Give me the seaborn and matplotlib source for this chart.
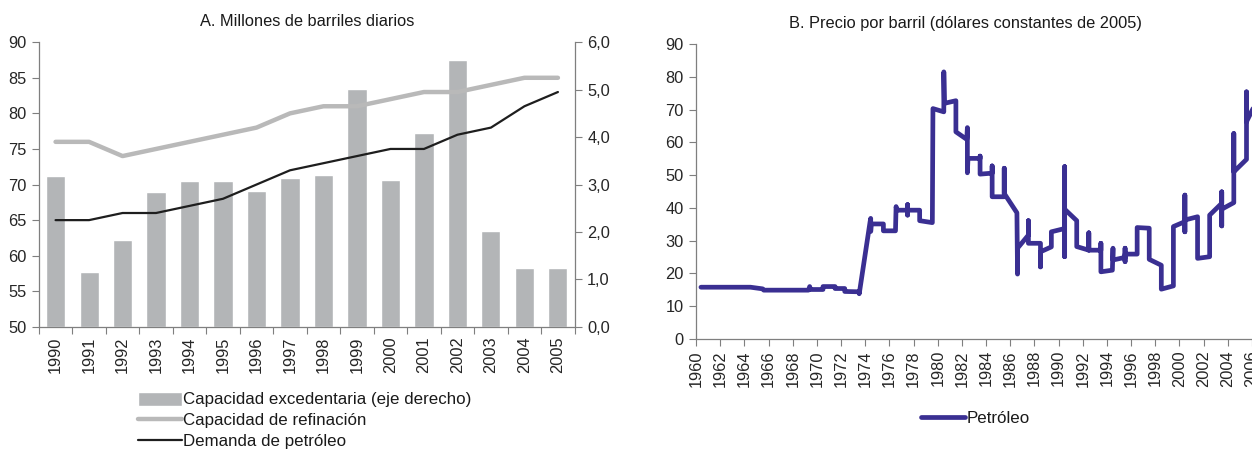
import matplotlib
matplotlib.use("Agg")
import matplotlib.pyplot as plt
import matplotlib.ticker as mticker
import numpy as np
import pandas as pd
import seaborn as sns

### Data - panel A (millones de barriles diarios)
years_a = [str(y) for y in range(1990, 2006)]
spare_capacity = [3.19, 1.16, 1.83, 2.85, 3.07, 3.08, 2.86, 3.13, 3.20, 5.01,
                  3.10, 4.09, 5.63, 2.02, 1.25, 1.25]
refining_capacity = [76, 76, 74, 75, 76, 77, 78, 80, 81, 81, 82, 83, 83, 84, 85, 85]
oil_demand = [65, 65, 66, 66, 67, 68, 70, 72, 73, 74, 75, 75, 77, 78, 81, 83]

### Data - panel B (precio por barril, dolares de 2005)
price_year = [1960.4, 1964.5, 1965.5, 1965.6, 1969.3, 1969.4, 1969.45, 1970.5, 1970.5,
              1971.5, 1971.5, 1972.3, 1972.3, 1973.5, 1973.5, 1974.4, 1974.45, 1974.45,
              1974.5, 1975.5, 1975.5, 1976.5, 1976.55, 1976.6, 1977.5, 1977.5, 1977.5,
              1977.5, 1978.5, 1978.5, 1979.55, 1979.6, 1980.5, 1980.5, 1980.55, 1981.5,
              1981.5, 1982.4, 1982.45, 1982.45, 1982.5, 1983.5, 1983.5, 1983.5, 1984.5,
              1984.5, 1984.5, 1985.5, 1985.5, 1985.5, 1986.55, 1986.6, 1986.6, 1987.5,
              1987.5, 1987.5, 1988.5, 1988.5, 1988.5, 1989.4, 1989.4, 1990.5, 1990.5,
              1990.5, 1990.5, 1991.5, 1991.5, 1992.5, 1992.5, 1992.5, 1993.5, 1993.5,
              1993.5, 1994.45, 1994.5, 1994.5, 1995.5, 1995.5, 1995.5, 1995.5, 1996.5,
              1996.5, 1997.5, 1997.5, 1998.5, 1998.5, 1999.5, 1999.5, 2000.45, 2000.45,
              2000.45, 2000.45, 2001.5, 2001.5, 2002.5, 2002.5, 2003.5, 2003.5, 2003.5,
              2003.5, 2004.5, 2004.5, 2004.5, 2005.55, 2005.55, 2005.55, 2006.4, 2006.6]
price_value = [15.8, 15.8, 15.3, 14.9, 14.9, 16.0, 15.1, 15.1, 16.0,
               16.0, 15.4, 15.4, 14.5, 14.4, 13.8, 35.8, 36.8, 32.8,
               35.1, 35.1, 33.0, 33.0, 40.4, 39.3, 39.3, 41.0, 37.8,
               39.3, 39.3, 36.1, 35.5, 70.3, 69.3, 81.5, 71.9, 72.7,
               63.2, 60.9, 64.5, 50.7, 55.1, 55.1, 55.8, 50.3, 50.6,
               52.8, 43.4, 43.4, 52.1, 44.4, 38.5, 19.8, 27.7, 31.7,
               36.1, 29.2, 29.2, 22.0, 26.6, 28.1, 32.7, 33.7, 52.6,
               25.1, 39.6, 36.1, 28.2, 27.1, 32.4, 27.1, 27.1, 29.2,
               20.5, 21.0, 27.7, 24.1, 24.9, 27.7, 23.6, 25.9, 25.9,
               34.0, 33.8, 24.3, 22.5, 15.2, 16.2, 34.3, 35.8, 43.9,
               32.7, 36.3, 37.3, 24.6, 25.1, 37.8, 41.4, 44.9, 34.5,
               39.6, 41.6, 62.7, 51.0, 54.8, 75.4, 66.3, 72.6, 69.3]

sns.set_theme(style="white")
plt.rcParams['font.family'] = ['Liberation Sans', 'DejaVu Sans']
plt.rcParams['text.color'] = '#1a1a1a'

BAR_GRAY = '#b3b5b7'
LINE_GRAY = '#b9b9b9'
PURPLE = '#3a2f92'
AXIS_GRAY = '#7f7f7f'
FS = 11.8
LEG_FS = 12.2

fig = plt.figure(figsize=(12.52, 4.49), dpi=100)

### Panel A
ax = fig.add_axes([0.031, 0.272, 0.428, 0.634])
ax2 = ax.twinx()

idx = np.arange(len(years_a))
df_a = pd.DataFrame({'pos': idx, 'year': years_a, 'spare': spare_capacity,
                     'refin': refining_capacity, 'demand': oil_demand})

sns.barplot(data=df_a, x='pos', y='spare', color=BAR_GRAY, saturation=1,
            width=0.57, ax=ax2, native_scale=True, label='Capacidad excedentaria (eje derecho)')
sns.lineplot(data=df_a, x='pos', y='refin', color=LINE_GRAY, linewidth=3.2, ax=ax,
             label='Capacidad de refinación')
sns.lineplot(data=df_a, x='pos', y='demand', color='#1e1e1e', linewidth=1.6, ax=ax,
             label='Demanda de petróleo')

ax.set_zorder(ax2.get_zorder() + 1)
ax.patch.set_visible(False)

ax.set_xlim(-0.5, len(years_a) - 0.5)
ax.set_ylim(50, 90)
ax2.set_ylim(0, 6)
ax.set_yticks(range(50, 91, 5))
ax2.set_yticks(np.arange(0, 6.1, 1))
ax2.yaxis.set_major_formatter(mticker.FuncFormatter(lambda v, p: f"{v:.1f}".replace('.', ',')))

ax.set_xticks(idx)
ax.set_xticklabels(years_a, rotation=90)
ax.set_xticks(np.arange(-0.5, len(years_a), 1), minor=True)
ax.tick_params(axis='x', which='major', length=0, pad=7, labelsize=FS)
ax.tick_params(axis='x', which='minor', length=5, width=0.8, color=AXIS_GRAY, direction='out', bottom=True)
ax.tick_params(axis='y', length=5, width=0.8, color=AXIS_GRAY, direction='out', left=True, labelsize=FS, pad=4)
ax2.tick_params(axis='y', length=5, width=0.8, color=AXIS_GRAY, direction='out', right=True, labelsize=FS, pad=4)
ax2.tick_params(axis='x', which='both', bottom=False, labelbottom=False)

for a in (ax, ax2):
    a.set_xlabel('')
    a.set_ylabel('')
    a.spines['top'].set_visible(False)
    for s in ('left', 'right', 'bottom'):
        a.spines[s].set_color(AXIS_GRAY)
        a.spines[s].set_linewidth(0.9)
ax.spines['right'].set_visible(False)
ax2.spines['left'].set_visible(False)
ax2.spines['bottom'].set_visible(False)

ax.set_title('A. Millones de barriles diarios', fontsize=FS, pad=12)

h1, l1 = ax2.get_legend_handles_labels()
h2, l2 = ax.get_legend_handles_labels()
for a in (ax, ax2):
    if a.get_legend():
        a.get_legend().remove()
fig.legend(h1 + h2, l1 + l2, loc='upper left', bbox_to_anchor=(0.110, 0.128),
           frameon=False, fontsize=LEG_FS, handlelength=2.6, handleheight=0.9,
           handletextpad=0.1, labelspacing=0.3, borderaxespad=0, borderpad=0)

### Panel B
bx = fig.add_axes([0.556, 0.245, 0.4536, 0.657])
df_b = pd.DataFrame({'year': price_year, 'price': price_value})
sns.lineplot(data=df_b, x='year', y='price', sort=False, estimator=None, color=PURPLE,
             linewidth=3.4, ax=bx, label='Petróleo')
bx.set_xlim(1960, 2007)
bx.set_ylim(0, 90)
bx.set_yticks(range(0, 91, 10))
bx.set_xticks(range(1960, 2007, 2))
bx.set_xticklabels([str(y) for y in range(1960, 2007, 2)], rotation=90)
bx.tick_params(axis='x', length=5, width=0.8, color=AXIS_GRAY, direction='out', bottom=True,
               labelsize=FS, pad=3)
bx.tick_params(axis='y', length=5, width=0.8, color=AXIS_GRAY, direction='out', left=True,
               labelsize=FS, pad=4)
bx.set_xlabel('')
bx.set_ylabel('')
for s in ('top', 'right'):
    bx.spines[s].set_visible(False)
for s in ('left', 'bottom'):
    bx.spines[s].set_color(AXIS_GRAY)
    bx.spines[s].set_linewidth(0.9)
bx.get_legend().remove()
fig.text(0.771, 0.948, 'B. Precio por barril (dólares constantes de 2005)', ha='center',
         va='center', fontsize=FS)
hb, lb = bx.get_legend_handles_labels()
fig.legend(hb, lb, loc='center', bbox_to_anchor=(0.779, 0.067), frameon=False, fontsize=LEG_FS,
           handlelength=2.6, handletextpad=0.1, borderaxespad=0, borderpad=0)

fig.savefig('out.png', dpi=100)
